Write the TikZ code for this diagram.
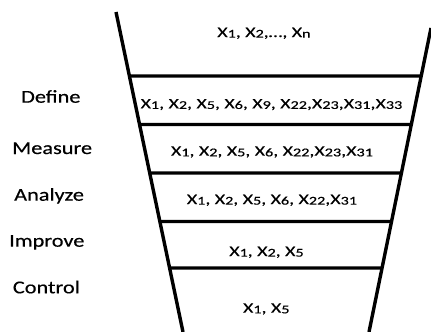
\documentclass[tikz,border=0pt]{standalone}
\usepackage{fontspec}
\setmainfont{Carlito}
\newfontfamily\labelfont[FakeStretch=1.23,FakeBold=0.4]{Carlito}
\newfontfamily\varfont[FakeStretch=1.37,FakeBold=0.4]{Carlito}
% variable X with a small index set just under the baseline
\newcommand\xv[1]{X\raisebox{-0.6bp}{\fontsize{11.9}{14}\selectfont #1}}
\begin{document}
\begin{tikzpicture}[x=1bp,y=-1bp,
  wall/.style={line width=3.4bp},
  rung/.style={line width=3.4bp},
  phase/.style={anchor=base west,font=\labelfont\fontsize{18.2}{22}\selectfont,inner sep=0pt},
  vars/.style={anchor=base,font=\varfont\fontsize{14.5}{17}\selectfont,inner sep=0pt}]
\useasboundingbox (0,0) rectangle (431,332);
% funnel walls
\coordinate (lt) at (116,12);
\coordinate (lb) at (183,332);
\coordinate (rt) at (431,28);
\coordinate (rb) at (369,332);
\draw[wall] (lt) -- (lb);
\draw[wall] (rt) -- (rb);
% stage separators
\foreach \n/\y in {a/76,b/124.5,c/173,d/221.5,e/268}{
  \coordinate (\n l) at (intersection of lt--lb and 0,\y--10,\y);
  \coordinate (\n r) at (intersection of rt--rb and 0,\y--10,\y);
  \draw[rung] (\n l) -- (\n r);
}
% phase names
\node[phase] (define)  at (21,102.7) {Define};
\node[phase] (measure) at (12,154) {Measure};
\node[phase] (analyze) at (14,200.7) {Analyze};
\node[phase] (improve) at (9,246.7) {Improve};
\node[phase] (control) at (12.7,293.3) {Control};
% variables kept at each stage
\node[vars] (s0) at (264,37) {\xv{1}, \xv{2},\dots, \xv{n}};
\node[vars] (s1) at (271.5,108.3) {\xv{1}, \xv{2}, \xv{5}, \xv{6}, \xv{9}, \xv{22},\xv{23},\xv{31},\xv{33}};
\node[vars] (s2) at (272,155.7) {\xv{1}, \xv{2}, \xv{5}, \xv{6}, \xv{22},\xv{23},\xv{31}};
\node[vars] (s3) at (272,204) {\xv{1}, \xv{2}, \xv{5}, \xv{6}, \xv{22},\xv{31}};
\node[vars] (s4) at (266.5,256) {\xv{1}, \xv{2}, \xv{5}};
\node[vars] (s5) at (266.3,312.7) {\xv{1}, \xv{5}};
\end{tikzpicture}
\end{document}
